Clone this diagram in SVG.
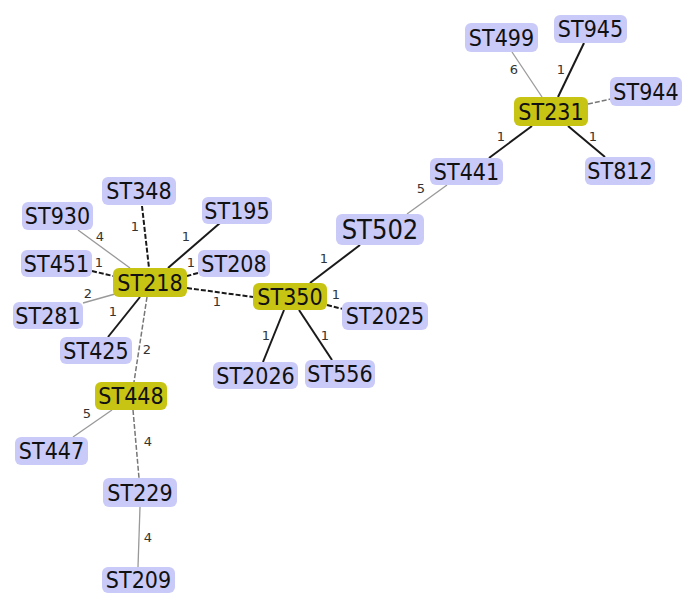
<svg xmlns="http://www.w3.org/2000/svg" width="691" height="603" viewBox="0 0 691 603">
<style>
.n rect{fill:#cacaf9;rx:6px;ry:6px}
.g rect{fill:#c8c414;rx:6px;ry:6px}
text.t{font-family:"DejaVu Sans Condensed","DejaVu Sans","Liberation Sans",sans-serif;font-size:23px;fill:#111;text-anchor:middle}
text.l{font-family:"DejaVu Sans","Liberation Sans",sans-serif;font-size:13px;fill:#333;text-anchor:middle}
.s{stroke:#1a1a1a;stroke-width:2;fill:none}
.d{stroke:#1a1a1a;stroke-width:2;stroke-dasharray:5 2;fill:none}
.w{stroke:#999;stroke-width:1.3;fill:none}
.wd{stroke:#777;stroke-width:1.5;stroke-dasharray:5 2;fill:none}
</style>
<rect width="691" height="603" fill="#fff"/>
<g id="connectors">
<line class="d" x1="142" y1="206" x2="149" y2="268"/>
<line class="w" x1="78" y1="230" x2="130" y2="268"/>
<line class="d" x1="92" y1="271" x2="113" y2="276"/>
<line class="s" x1="220" y1="223" x2="168" y2="268"/>
<line class="d" x1="198" y1="273" x2="187" y2="276"/>
<line class="w" x1="83" y1="303" x2="115" y2="294"/>
<line class="s" x1="108" y1="337" x2="140" y2="297"/>
<line class="wd" x1="147" y1="297" x2="134" y2="382"/>
<line class="d" x1="187" y1="288" x2="253" y2="297"/>
<line class="s" x1="310" y1="283" x2="360" y2="245"/>
<line class="d" x1="327" y1="305" x2="343" y2="309"/>
<line class="s" x1="284" y1="310" x2="263" y2="362"/>
<line class="s" x1="299" y1="310" x2="332" y2="360"/>
<line class="w" x1="407" y1="214" x2="447" y2="185"/>
<line class="s" x1="489" y1="158" x2="532" y2="126"/>
<line class="w" x1="512" y1="52" x2="542" y2="97"/>
<line class="s" x1="584" y1="43" x2="558" y2="97"/>
<line class="wd" x1="588" y1="104" x2="611" y2="99"/>
<line class="s" x1="568" y1="126" x2="605" y2="157"/>
<line class="w" x1="112" y1="410" x2="73" y2="437"/>
<line class="wd" x1="133" y1="410" x2="139" y2="478"/>
<line class="w" x1="140" y1="507" x2="138" y2="567"/>
<text class="l" x="135" y="231">1</text>
<text class="l" x="100" y="241">4</text>
<text class="l" x="99" y="267">1</text>
<text class="l" x="186" y="241">1</text>
<text class="l" x="191" y="267">1</text>
<text class="l" x="88" y="298">2</text>
<text class="l" x="113" y="316">1</text>
<text class="l" x="147" y="354">2</text>
<text class="l" x="217" y="306">1</text>
<text class="l" x="324" y="263">1</text>
<text class="l" x="336" y="299">1</text>
<text class="l" x="266" y="340">1</text>
<text class="l" x="325" y="340">1</text>
<text class="l" x="421" y="193">5</text>
<text class="l" x="501" y="141">1</text>
<text class="l" x="514" y="74">6</text>
<text class="l" x="561" y="74">1</text>
<text class="l" x="593" y="141">1</text>
<text class="l" x="87" y="418">5</text>
<text class="l" x="148" y="446">4</text>
<text class="l" x="148" y="542">4</text>
</g>
<g id="ST348" class="n"><rect x="102" y="177" width="74" height="28"/><text class="t" x="139" y="199">ST348</text></g>
<g id="ST930" class="n"><rect x="22" y="202" width="71" height="28"/><text class="t" x="57.5" y="224">ST930</text></g>
<g id="ST451" class="n"><rect x="21" y="250" width="71" height="27"/><text class="t" x="56.5" y="271.5">ST451</text></g>
<g id="ST218" class="g"><rect x="113" y="268" width="74" height="29"/><text class="t" x="150" y="290.5">ST218</text></g>
<g id="ST281" class="n"><rect x="13" y="302" width="70" height="27"/><text class="t" x="48" y="323.5">ST281</text></g>
<g id="ST425" class="n"><rect x="60" y="337" width="72" height="27"/><text class="t" x="96" y="358.5">ST425</text></g>
<g id="ST195" class="n"><rect x="202" y="197" width="70" height="27"/><text class="t" x="237" y="218.5">ST195</text></g>
<g id="ST208" class="n"><rect x="198" y="250" width="72" height="27"/><text class="t" x="234" y="271.5">ST208</text></g>
<g id="ST350" class="g"><rect x="253" y="283" width="74" height="27"/><text class="t" x="290" y="304.5">ST350</text></g>
<g id="ST502" class="n"><rect x="336" y="214" width="88" height="31"/><text class="t" x="380" y="239" style="font-size:27px">ST502</text></g>
<g id="ST2025" class="n"><rect x="342" y="302" width="86" height="28"/><text class="t" x="385" y="324">ST2025</text></g>
<g id="ST2026" class="n"><rect x="213" y="362" width="85" height="27"/><text class="t" x="255.5" y="383.5">ST2026</text></g>
<g id="ST556" class="n"><rect x="305" y="360" width="70" height="28"/><text class="t" x="340" y="382">ST556</text></g>
<g id="ST448" class="g"><rect x="95" y="382" width="72" height="28"/><text class="t" x="131" y="404">ST448</text></g>
<g id="ST447" class="n"><rect x="15" y="437" width="73" height="28"/><text class="t" x="51.5" y="459">ST447</text></g>
<g id="ST229" class="n"><rect x="103" y="478" width="74" height="29"/><text class="t" x="140" y="500.5">ST229</text></g>
<g id="ST209" class="n"><rect x="102" y="567" width="73" height="26"/><text class="t" x="138.5" y="588">ST209</text></g>
<g id="ST499" class="n"><rect x="465" y="23" width="73" height="29"/><text class="t" x="501.5" y="45.5">ST499</text></g>
<g id="ST945" class="n"><rect x="554" y="15" width="73" height="28"/><text class="t" x="590.5" y="37">ST945</text></g>
<g id="ST944" class="n"><rect x="610" y="77" width="72" height="29"/><text class="t" x="646" y="99.5">ST944</text></g>
<g id="ST231" class="g"><rect x="514" y="97" width="74" height="29"/><text class="t" x="551" y="119.5">ST231</text></g>
<g id="ST812" class="n"><rect x="585" y="157" width="70" height="28"/><text class="t" x="620" y="179">ST812</text></g>
<g id="ST441" class="n"><rect x="430" y="158" width="73" height="27"/><text class="t" x="466.5" y="179.5">ST441</text></g>
</svg>
